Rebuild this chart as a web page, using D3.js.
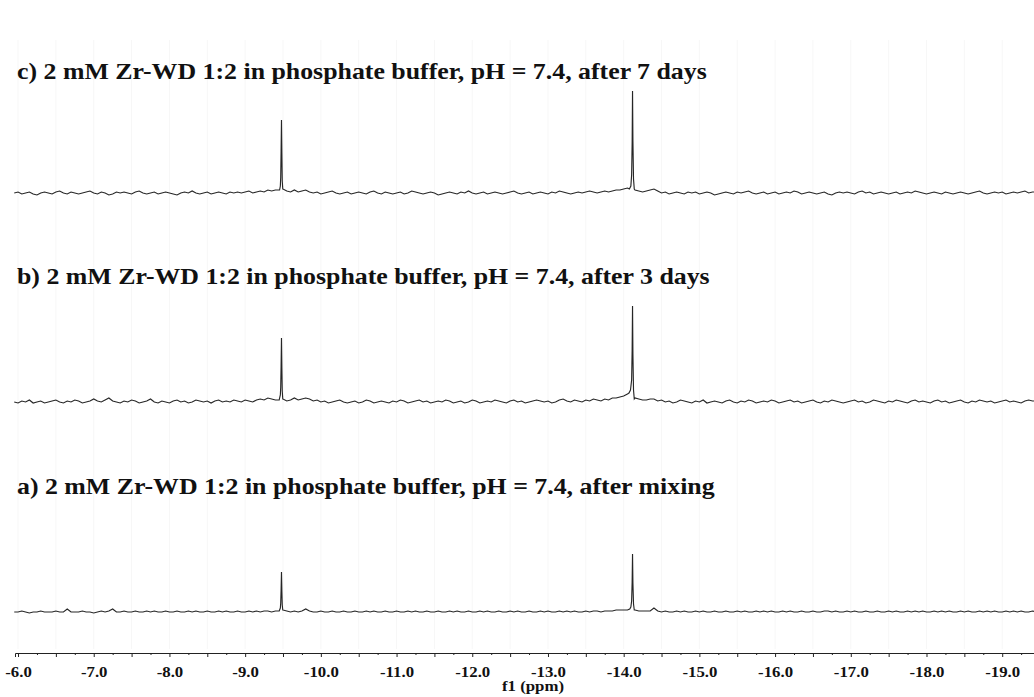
<!DOCTYPE html>
<html>
<head>
<meta charset="utf-8">
<script src="https://cdn.jsdelivr.net/npm/d3@7"></script>
<style>
  body { margin: 0; background: #fff; }
  svg { display: block; }
  .title { font-family: "Liberation Serif", "Times New Roman", serif; font-weight: bold; font-size: 23.5px; fill: #111; }
  .axis text, .axis-title { font-family: "Liberation Serif", "Times New Roman", serif; font-weight: bold; font-size: 14px; fill: #111; }
  .axis path, .axis line { stroke: #222; }
  .spec { fill: none; stroke: #262626; stroke-width: 1.15; }
  .grid line { stroke: #f7f7f7; }
</style>
</head>
<body>
<svg id="chart"></svg>
<script>
//SIZE AND LAYOUT
const size = {w: 1034, h: 697};
const axisY = 653;

//DATA
// spectrum labels, top to bottom
const titles = [
  'c) 2 mM Zr-WD 1:2 in phosphate buffer, pH = 7.4, after 7 days',
  'b) 2 mM Zr-WD 1:2 in phosphate buffer, pH = 7.4, after 3 days',
  'a) 2 mM Zr-WD 1:2 in phosphate buffer, pH = 7.4, after mixing'
];
const ppmDomain = [-5.96, -19.42];
const majorTicks = [-6, -7, -8, -9, -10, -11, -12, -13, -14, -15, -16, -17, -18, -19];

// baseline samples start at -5.95 ppm, one every 0.05 ppm
const noiseStart = -5.95, noiseStep = 0.05;

const noiseC = [
  0,1,-1,0,1,-1,-2,0,1,0,  -1,1,2,0,-1,1,0,-1,0,1,  2,0,-1,1,0,-2,-1,1,0,1,
  0,-1,1,2,0,-1,0,1,-1,0,  1,0,-1,-2,0,1,0,2,0,-1,  0,1,-1,0,1,0,-1,1,0,1,
  0,1,2,0,1,2,1,3,2,3,     3,4,2,1,3,1,2,3,1,0,     1,-1,0,1,2,0,-1,0,1,-1,
  0,1,0,-1,1,2,0,-1,1,0,   -1,0,1,-1,0,2,1,0,-1,0,  1,0,-2,-1,0,1,0,-1,1,0,
  2,0,-1,0,1,-1,0,1,0,-1,  0,1,2,0,-1,0,1,-1,0,1,   0,-1,1,0,2,1,0,-1,0,1,
  0,1,2,1,0,1,2,1,2,3,     3,4,5,5,3,2,1,2,3,4,     2,0,1,-1,0,1,0,-1,1,0,
  1,-1,0,1,0,-2,-1,0,1,0,  -1,1,0,1,2,0,-1,0,1,-1,  0,1,-1,0,1,0,2,1,-1,0,
  1,0,-1,0,1,-1,-2,0,1,0,  1,0,-1,1,2,0,1,-1,0,1,   0,-1,0,1,-1,0,1,0,2,1,
  0,-1,0,1,0,-1,1,0,-1,0,  1,0,-1,0,1,2,0,-1,0,1,   0,1,-1,0,1,0,1,2,0,1,1
];
const noiseB = [
  0,-1,1,0,2,-1,0,1,-1,0,  1,2,0,-1,1,0,2,1,-1,0,   1,3,1,0,2,4,1,0,-1,1,
  0,2,1,-1,0,1,3,0,-1,1,   0,-1,1,2,0,1,-1,0,2,1,   0,1,-1,1,2,0,1,0,2,1,
  0,2,1,0,2,3,2,4,3,2,     2,3,1,2,4,2,3,4,3,1,     2,0,1,-1,0,1,2,0,-1,0,
  1,-1,0,2,1,-1,0,1,0,-1,  1,0,2,1,-1,0,1,2,0,1,    -1,0,1,0,2,1,-1,0,1,-1,
  0,2,1,-1,0,1,0,2,1,0,    -1,1,2,0,1,-1,0,1,2,1,   0,1,-1,0,2,3,1,0,2,1,
  0,2,1,3,2,1,3,2,4,4,     5,6,8,8,4,3,2,2,3,3,     1,2,0,1,-1,0,2,1,0,-1,
  1,0,2,-1,0,1,0,-1,1,2,   0,-1,1,0,2,1,-1,0,1,0,   2,1,-1,0,1,2,0,1,-1,0,
  1,2,0,-1,1,0,2,1,0,-1,   0,1,2,0,1,-1,0,2,1,0,    -1,1,0,2,1,0,-1,1,2,0,
  1,0,-1,1,2,0,1,-1,0,1,   2,0,-1,1,0,2,1,0,1,-1,   0,1,2,0,1,0,-1,1,2,1,1
];
const noiseA = [
  0,0,1,0,-1,0,0,1,0,0,    0,1,0,0,3,0,0,0,1,0,     0,-1,0,1,0,1,3,0,0,1,
  0,0,1,0,0,1,0,1,0,0,     1,0,0,1,0,0,1,0,1,0,     0,1,0,0,1,0,1,0,0,1,
  0,0,1,0,1,0,1,1,0,1,     1,2,1,0,1,0,1,3,1,0,     0,1,0,0,1,0,0,1,0,0,
  1,0,0,1,0,1,0,0,1,0,     0,1,0,0,1,0,1,0,0,1,     0,0,1,0,0,1,0,1,0,0,
  1,0,0,1,0,1,0,0,1,0,     0,1,0,1,0,0,1,0,0,1,     0,1,0,0,1,0,1,0,1,0,
  0,1,0,1,1,0,1,1,1,2,     2,2,2,3,2,1,1,1,1,4,     1,0,1,0,0,1,0,1,0,0,
  1,0,1,0,0,1,0,0,1,0,     0,1,0,1,0,0,1,0,1,0,     1,0,0,1,0,1,0,0,1,0,
  0,1,0,0,1,1,0,1,0,0,     1,0,1,0,0,1,0,0,1,0,     0,1,0,1,0,0,1,0,1,0,
  1,0,0,1,0,1,0,1,0,0,     1,0,1,0,0,1,0,1,0,1,     0,0,1,0,1,0,1,0,0,1,0
];

// peak points [ppm, intensity]
const peaksC = [
  [-9.455, 3], [-9.465, 7], [-9.47, 16], [-9.475, 42], [-9.48, 73], [-9.485, 40], [-9.49, 12], [-9.497, 4],
  [-14.075, 4], [-14.095, 7], [-14.105, 18], [-14.112, 50], [-14.117, 102], [-14.122, 52], [-14.13, 14], [-14.14, 4]
];
const peaksB = [
  [-9.455, 4], [-9.465, 7], [-9.47, 15], [-9.475, 36], [-9.48, 64], [-9.485, 34], [-9.49, 11], [-9.497, 3],
  [-14.07, 9], [-14.09, 12], [-14.105, 22], [-14.112, 52], [-14.117, 96], [-14.122, 48], [-14.13, 12], [-14.14, 3]
];
const peaksA = [
  [-9.455, 2], [-9.465, 4], [-9.47, 9], [-9.475, 22], [-9.48, 40], [-9.485, 21], [-9.49, 7], [-9.497, 2],
  [-14.08, 3], [-14.095, 5], [-14.105, 11], [-14.112, 30], [-14.117, 58], [-14.122, 29], [-14.13, 8], [-14.14, 2]
];

const spectra = [
  {title: titles[0], noise: noiseC, peaks: peaksC},
  {title: titles[1], noise: noiseB, peaks: peaksB},
  {title: titles[2], noise: noiseA, peaks: peaksA}
];
// baseline y of each trace, and of its label
const baseY = [193, 402, 612];
const titleY = [79, 284, 494];

//CANVAS
const svg = d3.select('#chart')
  .attr('width', size.w)
  .attr('height', size.h);

const x = d3.scaleLinear()
  .domain(ppmDomain)
  .range([15, size.w]);

// faint grid
const halfTicks = d3.range(-6, -19.5, -0.5);
svg.append('g').attr('class', 'grid')
  .selectAll('line')
  .data(halfTicks)
  .enter().append('line')
  .attr('x1', d => x(d)).attr('x2', d => x(d))
  .attr('y1', 40).attr('y2', axisY - 4);

//SPECTRA
function buildPoints(s){
  // split peak points into groups, one per peak
  let groups = [[]];
  s.peaks.forEach((p, i) => {
    if(i > 0 && Math.abs(p[0] - s.peaks[i-1][0]) > 0.5) groups.push([]);
    groups[groups.length - 1].push(p);
  });
  let ranges = groups.map(g => [d3.max(g, d => d[0]), d3.min(g, d => d[0])]);
  let pts = s.noise.map((v, i) => [noiseStart - noiseStep * i, v])
    .filter(p => !ranges.some(r => p[0] <= r[0] && p[0] >= r[1]));
  pts = pts.concat(s.peaks);
  pts.sort((a, b) => b[0] - a[0]);
  return pts;
}

spectra.forEach((s, k) => {
  let y = d3.scaleLinear()
    .domain([0, 100])
    .range([baseY[k], baseY[k] - 100]);

  let line = d3.line()
    .x(d => x(d[0]))
    .y(d => y(d[1]));

  svg.append('path')
    .datum(buildPoints(s))
    .attr('class', 'spec')
    .attr('d', line);

  svg.append('text')
    .attr('class', 'title')
    .attr('transform', `translate(17,${titleY[k]}) scale(1.1,1)`)
    .text(s.title);
});

//AXIS
const minorTicks = d3.range(-6, -19.5, -0.25).filter(d => Math.abs(d * 2 - Math.round(d * 2)) > 0.01);

svg.append('g')
  .attr('class', 'axis')
  .attr('transform', `translate(0,${axisY})`)
  .call(d3.axisBottom(x).tickValues(minorTicks).tickSize(2).tickFormat(''))
  .call(g => g.select('.domain').remove());

svg.append('g')
  .attr('class', 'axis')
  .attr('transform', `translate(0,${axisY})`)
  .call(d3.axisBottom(x).tickValues(halfTicks).tickSizeOuter(0).tickSize(4)
    .tickFormat(d => majorTicks.includes(d) ? d3.format('.1f')(d).replace('−', '-') : ''))
  .call(g => g.selectAll('.tick text')
    .attr('y', 0)
    .attr('dy', 0)
    .attr('transform', 'translate(0,24) scale(1.2,1)'));

svg.append('text')
  .attr('class', 'axis-title')
  .attr('transform', 'translate(533,691) scale(1.2,1)')
  .attr('text-anchor', 'middle')
  .text('f1 (ppm)');
</script>
</body>
</html>
